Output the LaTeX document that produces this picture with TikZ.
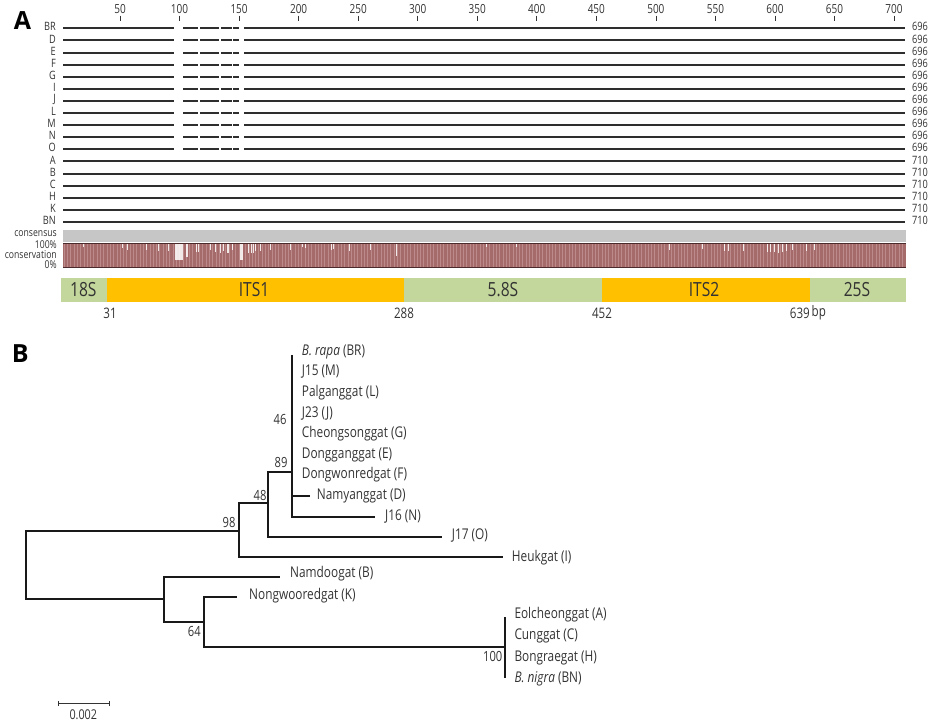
\documentclass[tikz,border=0pt]{standalone}
\usepackage{fontspec}
\setmainfont{Open Sans}[FakeStretch=0.8]
\newfontfamily\panelfont{Open Sans}
\definecolor{txt}{HTML}{333333}
\definecolor{seqc}{HTML}{2E2E2E}
\definecolor{consc}{HTML}{C6C6C6}
\definecolor{consv}{HTML}{A56A6A}
\definecolor{consstripe}{HTML}{BC8A8A}
\definecolor{consedge}{HTML}{4A2A2A}
\definecolor{rgreen}{HTML}{C3D69B}
\definecolor{rorange}{HTML}{FFC000}
\tikzset{
  panel/.style={font=\panelfont\bfseries\fontsize{25}{25}\selectfont, text=black, inner sep=0pt},
  rulerlab/.style={font=\fontsize{12.5}{13}\selectfont, text=txt, inner sep=0pt},
  rowlab/.style={font=\fontsize{11.5}{12}\selectfont, text=txt, inner sep=0pt, anchor=east},
  lenlab/.style={font=\fontsize{11.5}{12}\selectfont, text=txt, inner sep=0pt, anchor=west},
  conslab/.style={font=\fontsize{10.8}{11}\selectfont, text=txt, inner sep=0pt, anchor=east},
  seqline/.style={draw=seqc, line width=2pt},
  rtick/.style={draw=txt, line width=0.6pt},
  band/.style={inner sep=0pt, font=\fontsize{19.5}{20}\selectfont, text=txt},
  bandnum/.style={font=\fontsize{14.5}{15}\selectfont, text=txt, inner sep=0pt},
  branch/.style={draw=black!90, line width=1.9pt, line join=miter},
  tip/.style={font=\fontsize{14.8}{15}\selectfont, text=txt, inner sep=0pt, anchor=west},
  boot/.style={font=\fontsize{14}{14}\selectfont, text=txt, inner sep=0pt},
}
\begin{document}
\begin{tikzpicture}[x=1pt,y=-1pt]
\useasboundingbox (0,0) rectangle (939,726);
% ---------- Panel A ----------
\node[panel] (pA) at (22.5,21) {A};
% ruler
\foreach \p in {50,100,...,700}{
  \pgfmathsetmacro\xx{120+(\p-50)*1.1908}
  \draw[rtick] (\xx,15.5) -- (\xx,20.5);
  \node[rulerlab] (ru\p) at (\xx,9.5) {\p};
}
% sequences
\foreach \lab/\len [count=\i from 0] in {BR/696,D/696,E/696,F/696,G/696,I/696,J/696,L/696,M/696,N/696,O/696,A/710,B/710,C/710,H/710,K/710,BN/710}{
  \pgfmathsetmacro\yy{28.3+12.1*\i}
  \node[rowlab] (row\lab) at (56,\yy-1.5) {\lab};
  \node[lenlab] (len\lab) at (912,\yy-1.5) {\len};
  \ifnum\i<11
    \draw[seqline] (63,\yy) -- (174,\yy);
    \draw[seqline] (183.3,\yy) -- (198,\yy);
    \draw[seqline] (200,\yy) -- (219.3,\yy);
    \draw[seqline] (221,\yy) -- (231.7,\yy);
    \draw[seqline] (233.3,\yy) -- (238.7,\yy);
    \draw[seqline] (244,\yy) -- (905,\yy);
  \else
    \draw[seqline] (63,\yy) -- (905,\yy);
  \fi
}
% consensus / conservation
\fill[consc] (63,230) rectangle (906,241.7);
\fill[consv] (63,243.3) rectangle (906,268);
\foreach \x in {64,67.3,...,904}{
  \draw[consstripe, line width=0.45pt] (\x,244) -- (\x,267.5);
}
\foreach \x/\w/\d in {83/0.8/247,121.7/0.8/248,126.7/1/250,146/1/250,158.3/1/251,167.7/1/251,175/8/259.5,186/2/256.5,196/1/252,198/1/252,210/1/250,215/1/252,220/1/253,223/1/251,226.7/2.3/253,231.7/1.6/250,240/3.3/260,248/1.2/253,250.5/1.2/253,253/1/253,255/1/251,260/1/251,270/1/250,290/1/250,302/0.8/247,305/0.8/248,330.7/1/250,333/1/249,349/1/251,369.7/1/250,395.7/1/256,486/0.8/247,516/0.8/247,669/1/250,701.6/1/249,724/1/251,728/1/251,742.6/1/251,767/1.2/252,770/1.2/252,774/1/252,778/1.2/253,782/1/252,786/1/251,792/1/250,806/1/251,814/1/250}{
  \fill[white, opacity=0.85] (\x,244) rectangle ({\x+\w},\d);
}
\draw[consedge, line width=0.9pt] (63,243.6) -- (906,243.6);
\draw[consedge, line width=0.9pt] (63,267.8) -- (906,267.8);
\node[conslab] (lcons) at (57,233.3) {consensus};
\node[conslab] (l100) at (57,244.3) {100\%};
\node[conslab] (lconv) at (57,254.3) {conservation};
\node[conslab] (l0) at (57,264.3) {0\%};
% gene bands
\fill[rgreen]  (61,277.7) rectangle (107,301.7);
\fill[rorange] (107,277.7) rectangle (404,301.7);
\fill[rgreen]  (404,277.7) rectangle (602,301.7);
\fill[rorange] (602,277.7) rectangle (810,301.7);
\fill[rgreen]  (810,277.7) rectangle (906,301.7);
\node[band] (b18) at (83.3,290) {18S};
\node[band] (bits1) at (254,290) {ITS1};
\node[band] (b58) at (503,290) {5.8S};
\node[band] (bits2) at (704,290) {ITS2};
\node[band] (b25) at (857,290) {25S};
\node[bandnum] (n31) at (110,313) {31};
\node[bandnum] (n288) at (404,313) {288};
\node[bandnum] (n452) at (602,313) {452};
\node[bandnum, anchor=east] (n639) at (810,313) {639};
\node[bandnum, anchor=west] (nbp) at (811.5,313) {bp};
% ---------- Panel B ----------
\node[panel] (pB) at (20.3,353.3) {B};
\coordinate (root) at (26,565);
\coordinate (n98) at (239.3,530.7);
\coordinate (n48) at (268.3,503.3);
\coordinate (n89) at (291.7,471.7);
\coordinate (n89top) at (291.7,355);
\coordinate (tNam) at (310,495.7);
\coordinate (tJ16) at (375,516.7);
\coordinate (tJ17) at (441.7,536.7);
\coordinate (tHeuk) at (503.3,556.7);
\coordinate (nlow) at (164,599.3);
\coordinate (tNamdoo) at (280,577.3);
\coordinate (n64) at (204,622.3);
\coordinate (tNong) at (237.3,597.3);
\coordinate (n100) at (505,646.7);
\coordinate (n100top) at (505,616.7);
\coordinate (n100bot) at (505,678.3);
\draw[branch] (root) |- (n98);
\draw[branch] (root) |- (nlow);
\draw[branch] (n98) |- (n48);
\draw[branch] (n98) |- (tHeuk);
\draw[branch] (n48) |- (n89);
\draw[branch] (n48) |- (tJ17);
\draw[branch] (n89) -- (n89top);
\draw[branch] (n89) |- (tNam);
\draw[branch] (n89) |- (tJ16);
\draw[branch] (nlow) |- (tNamdoo);
\draw[branch] (nlow) |- (n64);
\draw[branch] (n64) |- (tNong);
\draw[branch] (n64) |- (n100);
\draw[branch] (n100) -- (n100top);
\draw[branch] (n100) -- (n100bot);
% tip labels
\node[tip] (lBR) at (301.7,351.7) {\textit{B. rapa} (BR)};
\node[tip] (lM) at (301.7,371.7) {J15 (M)};
\node[tip] (lL) at (301.7,392.3) {Palganggat (L)};
\node[tip] (lJ) at (301.7,413.3) {J23 (J)};
\node[tip] (lG) at (301.7,434) {Cheongsonggat (G)};
\node[tip] (lE) at (301.7,455) {Dongganggat (E)};
\node[tip] (lF) at (301.7,475) {Dongwonredgat (F)};
\node[tip] (lD) at (316.7,496) {Namyanggat (D)};
\node[tip] (lN) at (385,516.7) {J16 (N)};
\node[tip] (lO) at (451.7,536) {J17 (O)};
\node[tip] (lI) at (511.7,557.3) {Heukgat (I)};
\node[tip] (lB) at (290,574) {Namdoogat (B)};
\node[tip] (lK) at (249,596) {Nongwooredgat (K)};
\node[tip] (lA) at (514.3,614.3) {Eolcheonggat (A)};
\node[tip] (lC) at (514.3,635.7) {Cunggat (C)};
\node[tip] (lH) at (514.3,657.7) {Bongraegat (H)};
\node[tip] (lBN) at (514.3,679.3) {\textit{B. nigra} (BN)};
% bootstrap values
\node[boot] (b46) at (280,419.3) {46};
\node[boot] (b89) at (281,462.3) {89};
\node[boot] (b48) at (260,495.7) {48};
\node[boot] (b98v) at (229,522.3) {98};
\node[boot] (b64) at (194.3,631) {64};
\node[boot] (b100) at (492.7,656) {100};
% scale bar
\coordinate (sb1) at (58.3,703.7);
\coordinate (sb2) at (109.3,703.7);
\draw[draw=txt, line width=0.8pt] (sb1) -- (sb2);
\draw[draw=txt, line width=0.8pt] ([yshift=-2.5pt]sb1) -- ([yshift=2.5pt]sb1);
\draw[draw=txt, line width=0.8pt] ([yshift=-2.5pt]sb2) -- ([yshift=2.5pt]sb2);
\node[bandnum, font=\fontsize{13.5}{14}\selectfont] (sblab) at (83.3,715) {0.002};
\end{tikzpicture}
\end{document}
